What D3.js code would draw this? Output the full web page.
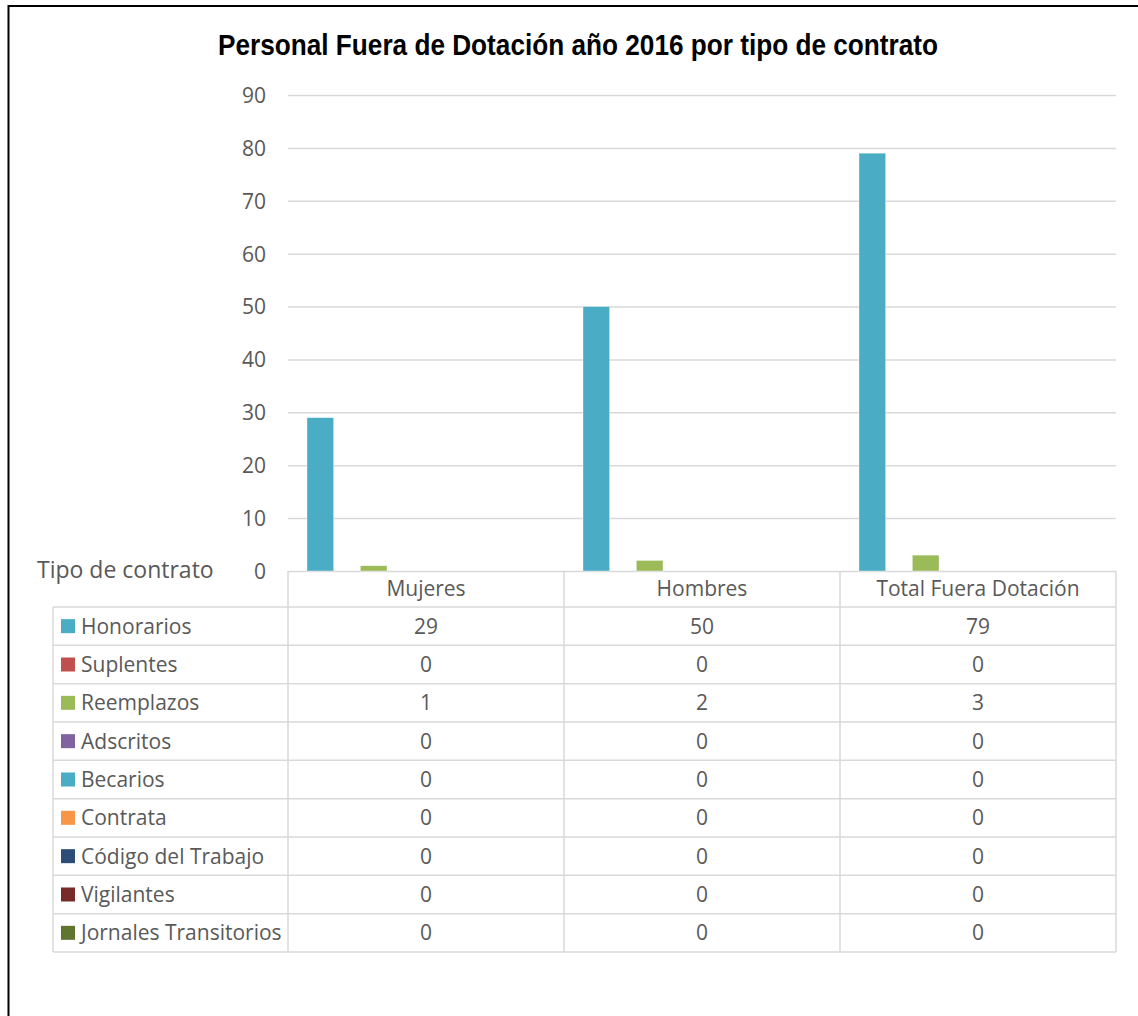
<!DOCTYPE html>
<html>
<head>
<meta charset="utf-8">
<script src="https://cdn.jsdelivr.net/npm/d3@7"></script>
<style>
  body { margin: 0; background: #fff; }
  svg text { font-family: "Open Sans", "DejaVu Sans", sans-serif; fill: #595959; }
</style>
</head>
<body>
<div id="viz"></div>
<script>
// chart data
const categories = ['Mujeres', 'Hombres', 'Total Fuera Dotación'];
const seriesNames = ['Honorarios', 'Suplentes', 'Reemplazos', 'Adscritos', 'Becarios',
                     'Contrata', 'Código del Trabajo', 'Vigilantes', 'Jornales Transitorios'];
const seriesColors = ['#4BACC6', '#C0504D', '#9BBB59', '#8064A2', '#4BACC6',
                      '#F79646', '#2C4D75', '#772C2A', '#5F7530'];
// one array per series, values by category
const honorarios = [29, 50, 79],
      suplentes = [0, 0, 0],
      reemplazos = [1, 2, 3],
      adscritos = [0, 0, 0],
      becarios = [0, 0, 0],
      contrata = [0, 0, 0],
      codigoTrabajo = [0, 0, 0],
      vigilantes = [0, 0, 0],
      jornales = [0, 0, 0];
const yTicks = [0, 10, 20, 30, 40, 50, 60, 70, 80, 90];
const chartTitle = 'Personal Fuera de Dotación año 2016 por tipo de contrato';
const tableLabel = 'Tipo de contrato';

const values = [honorarios, suplentes, reemplazos, adscritos, becarios,
                contrata, codigoTrabajo, vigilantes, jornales];

const W = 1138, H = 1016;
const plotLeft = 288, plotRight = 1116, plotTop = 95, plotBottom = 571;
const tableLeft = 53, headerBottom = 607, tableBottom = 952;
const gridColor = '#D9D9D9';

const svg = d3.select('#viz').append('svg')
  .attr('width', W).attr('height', H);

// frame (left and top edge)
svg.append('line').attr('x1', 8.5).attr('x2', 8.5).attr('y1', 5).attr('y2', H)
  .attr('stroke', '#000').attr('stroke-width', 2);
svg.append('line').attr('x1', 8).attr('x2', W).attr('y1', 6).attr('y2', 6)
  .attr('stroke', '#000').attr('stroke-width', 2);

// title (narrow bold face is not installed, so squeeze to the original width)
svg.append('text')
  .attr('x', 578).attr('y', 55)
  .attr('text-anchor', 'middle')
  .attr('textLength', 720)
  .attr('lengthAdjust', 'spacingAndGlyphs')
  .style('font-family', '"Liberation Sans Narrow", "Arial Narrow", "Liberation Sans", sans-serif')
  .style('font-weight', 'bold')
  .style('font-size', '30px')
  .style('fill', '#000')
  .text(chartTitle);

const y = d3.scaleLinear().domain([0, 90]).range([plotBottom, plotTop]);
const x0 = d3.scaleBand().domain(categories).range([plotLeft, plotRight]);
const x1 = d3.scaleBand().domain(seriesNames).range([19, x0.bandwidth() - 17]);

// gridlines + y labels
const yAxis = d3.axisLeft(y).tickValues(yTicks).tickSize(-(plotRight - plotLeft)).tickPadding(22);
const yg = svg.append('g').attr('transform', 'translate(' + plotLeft + ',0)').call(yAxis);
yg.select('.domain').remove();
yg.selectAll('.tick line').attr('stroke', gridColor).attr('stroke-width', 1.5);
yg.selectAll('.tick text')
  .style('font-size', '21px')
  .style('fill', '#595959')
  .attr('dy', '0.35em');

// bars
const barData = [];
seriesNames.forEach(function(s, i) {
  categories.forEach(function(c, j) {
    barData.push({ s: s, c: c, v: values[i][j], color: seriesColors[i] });
  });
});
svg.append('g').selectAll('rect')
  .data(barData.filter(function(d) { return d.v > 0; }))
  .enter().append('rect')
    .attr('x', function(d) { return x0(d.c) + x1(d.s); })
    .attr('width', x1.bandwidth())
    .attr('y', function(d) { return y(d.v); })
    .attr('height', function(d) { return y(0) - y(d.v); })
    .attr('fill', function(d) { return d.color; })
    .attr('stroke', '#fff').attr('stroke-opacity', 0.5).attr('stroke-width', 0.75);

// data table
const rowY = d3.scaleBand().domain(seriesNames).range([headerBottom, tableBottom]);
const tbl = svg.append('g');

// horizontal lines
tbl.append('line').attr('x1', tableLeft).attr('x2', plotRight)
  .attr('y1', headerBottom).attr('y2', headerBottom);
seriesNames.forEach(function(s) {
  tbl.append('line').attr('x1', tableLeft).attr('x2', plotRight)
    .attr('y1', rowY(s) + rowY.bandwidth()).attr('y2', rowY(s) + rowY.bandwidth());
});
// vertical lines
tbl.append('line').attr('x1', tableLeft).attr('x2', tableLeft)
  .attr('y1', headerBottom).attr('y2', tableBottom);
[plotLeft].concat(categories.map(function(c) { return x0(c) + x0.bandwidth(); })).forEach(function(xv) {
  tbl.append('line').attr('x1', xv).attr('x2', xv).attr('y1', plotBottom).attr('y2', tableBottom);
});
tbl.selectAll('line').attr('stroke', gridColor).attr('stroke-width', 1.5);

// header
tbl.selectAll('.hdr').data(categories).enter().append('text')
  .attr('class', 'hdr')
  .attr('x', function(c) { return x0(c) + x0.bandwidth() / 2; })
  .attr('y', (plotBottom + headerBottom) / 2)
  .attr('dy', '0.35em')
  .attr('text-anchor', 'middle')
  .style('font-size', '21px')
  .text(function(c) { return c; });

svg.append('text')
  .attr('x', 37).attr('y', plotBottom - 1)
  .attr('dy', '0.35em')
  .style('font-size', '23px')
  .text(tableLabel);

// legend keys + row labels
seriesNames.forEach(function(s, i) {
  const cy = rowY(s) + rowY.bandwidth() / 2;
  tbl.append('rect').attr('x', 61).attr('y', cy - 7).attr('width', 14).attr('height', 14)
    .attr('fill', seriesColors[i]);
  tbl.append('text').attr('x', 81).attr('y', cy).attr('dy', '0.35em')
    .style('font-size', '21px').text(s);
  categories.forEach(function(c, j) {
    tbl.append('text')
      .attr('x', x0(c) + x0.bandwidth() / 2).attr('y', cy).attr('dy', '0.35em')
      .attr('text-anchor', 'middle')
      .style('font-size', '21px')
      .text(values[i][j]);
  });
});
</script>
</body>
</html>
